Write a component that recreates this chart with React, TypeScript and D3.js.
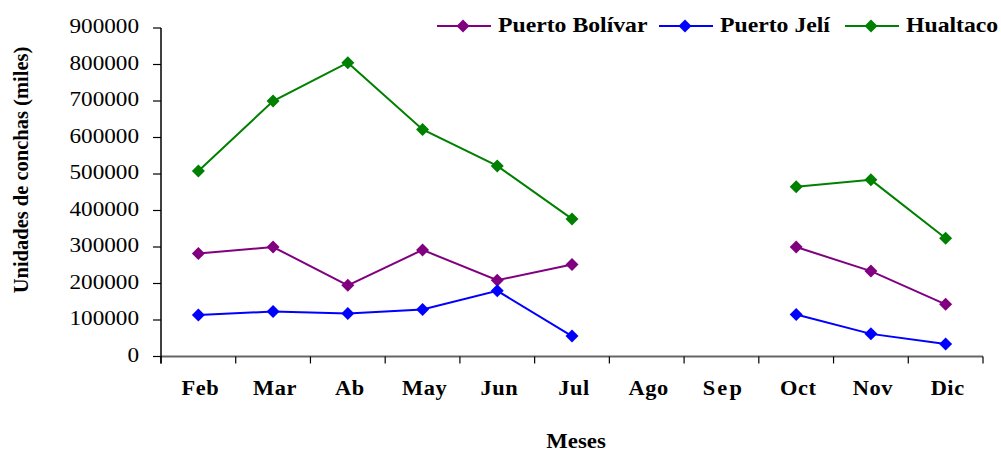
import React from "react";
import * as d3 from "d3";

// Monthly shell counts (thousands) per landing site; null = no sampling
const months = ["Feb", "Mar", "Ab", "May", "Jun", "Jul", "Ago", "Sep", "Oct", "Nov", "Dic"];
const puertoBolivar: (number | null)[] = [282000, 300000, 195000, 292000, 209000, 252000, null, null, 300000, 234000, 143000];
const puertoJeli: (number | null)[] = [114000, 123000, 118000, 129000, 180000, 56000, null, null, 115000, 62000, 34000];
const hualtaco: (number | null)[] = [508000, 700000, 805000, 622000, 522000, 377000, null, null, 465000, 484000, 324000];
const yTicks = [0, 100000, 200000, 300000, 400000, 500000, 600000, 700000, 800000, 900000];

const series = [
  { name: "Puerto Bolívar", color: "#800080", values: puertoBolivar },
  { name: "Puerto Jelí", color: "#0000ff", values: puertoJeli },
  { name: "Hualtaco", color: "#008000", values: hualtaco },
];

const W = 1001;
const H = 453;
const left = 161;
const right = 983;
const top = 28;
const bottom = 356.5;
const FONT = "'Liberation Serif', 'Times New Roman', serif";

export default function App() {
  const x = d3.scaleBand<string>().domain(months).range([left, right]).paddingInner(0).paddingOuter(0);
  const y = d3.scaleLinear().domain([0, 900000]).range([bottom, top]);
  const cx = (m: string) => (x(m) ?? 0) + x.bandwidth() / 2;

  const line = d3
    .line<{ m: string; v: number | null }>()
    .defined((d) => d.v !== null)
    .x((d) => cx(d.m))
    .y((d) => y(d.v as number));

  const diamond = (px: number, py: number, r = 6.5) =>
    `M${px},${py - r}L${px + r},${py}L${px},${py + r}L${px - r},${py}Z`;

  const tickEdges = d3.range(months.length + 1).map((i) => left + i * x.bandwidth());

  // legend swatch start and text start per series
  const legendItems = [
    { lx: 437, tx: 498 },
    { lx: 659, tx: 720 },
    { lx: 845, tx: 906 },
  ];

  return (
    <svg width={W} height={H} style={{ position: "absolute", left: 0, top: 0, background: "#fff" }}>
      {/* axes */}
      <line x1={left} x2={right} y1={bottom} y2={bottom} stroke="#666" strokeWidth={2} />
      <line x1={left} x2={left} y1={top} y2={bottom + 7} stroke="#000" strokeWidth={1.5} />
      {yTicks.map((t) => (
        <g key={t}>
          <line x1={left - 8} x2={left} y1={y(t)} y2={y(t)} stroke="#000" strokeWidth={1.2} />
          <text
            transform={`translate(139,${y(t) + 5}) scale(1.16,1)`}
            textAnchor="end"
            fontFamily={FONT}
            fontSize={20}
            fill="#000"
          >
            {t}
          </text>
        </g>
      ))}
      {tickEdges.map((e, i) => (
        <line key={i} x1={e} x2={e} y1={bottom} y2={bottom + 7} stroke="#000" strokeWidth={1.2} />
      ))}
      {months.map((m) => (
        <text
          key={m}
          transform={`translate(${cx(m) + 2},395) scale(1.12,1)`}
          textAnchor="middle"
          fontFamily={FONT}
          fontWeight="bold"
          fontSize={20}
          letterSpacing={m === "Sep" ? 2 : 0.5}
          fill="#000"
        >
          {m}
        </text>
      ))}
      <text
        transform="translate(576,448) scale(1.14,1)"
        textAnchor="middle"
        fontFamily={FONT}
        fontWeight="bold"
        fontSize={20}
        fill="#000"
      >
        Meses
      </text>
      <text
        transform="translate(28,170) rotate(-90)"
        textAnchor="middle"
        fontFamily={FONT}
        fontWeight="bold"
        fontSize={20.5}
        fill="#000"
      >
        Unidades de conchas (miles)
      </text>

      {/* series */}
      {series.map((s) => {
        const pts = months.map((m, i) => ({ m, v: s.values[i] }));
        return (
          <g key={s.name}>
            <path d={line(pts) ?? ""} fill="none" stroke={s.color} strokeWidth={2} />
            {pts
              .filter((p) => p.v !== null)
              .map((p) => (
                <path key={p.m} d={diamond(cx(p.m), y(p.v as number))} fill={s.color} />
              ))}
          </g>
        );
      })}

      {/* legend */}
      {series.map((s, i) => {
        const { lx, tx } = legendItems[i];
        return (
          <g key={s.name}>
            <line x1={lx} x2={lx + 54} y1={26} y2={26} stroke={s.color} strokeWidth={2} />
            <path d={diamond(lx + 26, 26, 6.5)} fill={s.color} />
            <text
              transform={`translate(${tx},32) scale(1.13,1)`}
              fontFamily={FONT}
              fontWeight="bold"
              fontSize={21}
              fill="#000"
            >
              {s.name}
            </text>
          </g>
        );
      })}
    </svg>
  );
}
